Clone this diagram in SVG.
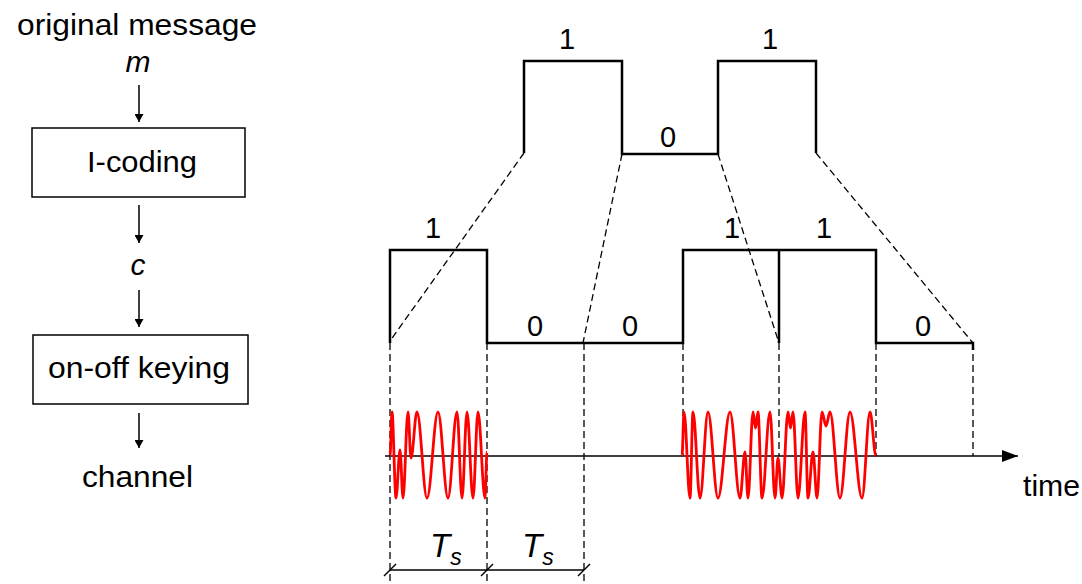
<svg xmlns="http://www.w3.org/2000/svg" width="1082" height="584" viewBox="0 0 1082 584">
<style>
.t{font-family:"Liberation Sans",Arial,sans-serif;font-size:29px;fill:#000}
.i{font-style:italic}
.box{fill:#fff;stroke:#000;stroke-width:1.5}
.ar{stroke:#000;stroke-width:1.5;fill:none}
.sig{stroke:#000;stroke-width:2.5;fill:none;stroke-linejoin:miter}
.dash{stroke:#000;stroke-width:1.3;fill:none;stroke-dasharray:7 4}
.ax{stroke:#000;stroke-width:1.5;fill:none}
.wave{stroke:#f00;stroke-width:2.8;fill:none;stroke-linejoin:round}
</style>
<defs>
<marker id="ah" viewBox="0 0 10 10" refX="10" refY="5" markerWidth="8" markerHeight="9" markerUnits="userSpaceOnUse" orient="auto" preserveAspectRatio="none">
<path d="M0,0 L10,5 L0,10 z" fill="#000"/>
</marker>
<marker id="big" viewBox="0 0 10 10" refX="10" refY="5" markerWidth="16" markerHeight="12" markerUnits="userSpaceOnUse" orient="auto" preserveAspectRatio="none">
<path d="M0,0 L10,5 L0,10 z" fill="#000"/>
</marker>
</defs>
<rect width="1082" height="584" fill="#fff"/>

<g id="block-diagram">
<g id="n-message"><text class="t" x="17" y="35" textLength="240" lengthAdjust="spacingAndGlyphs">original message</text>
<text class="t i" x="138" y="72" text-anchor="middle" style="font-size:30px">m</text></g>
<g id="n-lcoding"><rect class="box" x="32" y="128" width="213" height="69"/>
<text class="t" x="87" y="172" textLength="110" lengthAdjust="spacingAndGlyphs">I-coding</text></g>
<g id="n-c"><text class="t i" x="138" y="275" text-anchor="middle" style="font-size:30px">c</text></g>
<g id="n-ook"><rect class="box" x="33" y="335" width="215" height="69"/>
<text class="t" x="48" y="378" textLength="182" lengthAdjust="spacingAndGlyphs">on-off keying</text></g>
<g id="n-channel"><text class="t" x="82" y="487" textLength="111" lengthAdjust="spacingAndGlyphs">channel</text></g>
</g>

<g id="connectors">
<line class="ar" x1="139" y1="85" x2="139" y2="122" marker-end="url(#ah)"/>
<line class="ar" x1="139" y1="205" x2="139" y2="243" marker-end="url(#ah)"/>
<line class="ar" x1="139" y1="290" x2="139" y2="327" marker-end="url(#ah)"/>
<line class="ar" x1="139" y1="413" x2="139" y2="448" marker-end="url(#ah)"/>
<line class="ax" x1="385" y1="456" x2="1018" y2="456" marker-end="url(#big)"/>
</g>

<g id="upper-signal">
<path class="sig" d="M524,153 V61 H622 V154 H718 V61 H816 V153"/>
<text class="t" x="567" y="49" text-anchor="middle">1</text>
<text class="t" x="668" y="147" text-anchor="middle">0</text>
<text class="t" x="770" y="49" text-anchor="middle">1</text>
</g>

<g id="projection-lines">
<line class="dash" x1="524" y1="153" x2="390" y2="341"/>
<line class="dash" x1="622" y1="154" x2="583" y2="343"/>
<line class="dash" x1="718" y1="154" x2="779" y2="343"/>
<line class="dash" x1="816" y1="153" x2="973" y2="343"/>
</g>

<g id="lower-signal">
<path class="sig" d="M390,343 V250 H487 V343 H683 V250 H876 V343 H973 V350"/>
<line class="sig" x1="779" y1="250" x2="779" y2="343"/>
<text class="t" x="433" y="238" text-anchor="middle">1</text>
<text class="t" x="535" y="336" text-anchor="middle">0</text>
<text class="t" x="630" y="336" text-anchor="middle">0</text>
<text class="t" x="732" y="238" text-anchor="middle">1</text>
<text class="t" x="824" y="238" text-anchor="middle">1</text>
<text class="t" x="923" y="336" text-anchor="middle">0</text>
</g>

<g id="guides">
<line class="dash" x1="390" y1="343" x2="390" y2="584"/>
<line class="dash" x1="487" y1="343" x2="487" y2="584"/>
<line class="dash" x1="584" y1="343" x2="584" y2="584"/>
<line class="dash" x1="683" y1="343" x2="683" y2="456"/>
<line class="dash" x1="779" y1="343" x2="779" y2="456"/>
<line class="dash" x1="876" y1="343" x2="876" y2="456"/>
<line class="dash" x1="973" y1="343" x2="973" y2="456"/>
</g>

<g id="carrier">
<path class="wave" d="M390,456 C390.7 456 391.3 412 392 412 C393.4 412 394.6 498 396 498 C397.4 498 398.6 450 400 450 C401.1 450 401.9 498 403 498 C404.8 498 406.2 412 408 412 C409.1 412 409.9 458 411 458 C413.2 458 414.8 412 417 412 C420.6 412 423.4 498 427 498 C431 498 434 412 438 412 C441.6 412 444.4 498 448 498 C451.2 498 453.8 412 457 412 C458.8 412 460.2 498 462 498 C463.8 498 465.2 412 467 412 C469.2 412 470.8 498 473 498 C474.8 498 476.2 412 478 412 C480.5 412 482.5 498 485 498 C485.7 498 486.3 452 487 452"/>
<path class="wave" d="M682,456 C682.7 456 683.3 412 684 412 C686.2 412 687.8 498 690 498 C691.1 498 691.9 412 693 412 C695.5 412 697.5 498 700 498 C702.9 498 705.1 412 708 412 C711.6 412 714.4 498 718 498 C722.3 498 725.7 412 730 412 C733.6 412 736.4 498 740 498 C741.8 498 743.2 452 745 452 C746.1 452 746.9 498 748 498 C749.8 498 751.2 412 753 412 C753.9 412 754.6 428 755.5 428 C756.4 428 757.1 412 758 412 C759.4 412 760.6 498 762 498 C764.9 498 767.1 412 770 412 C771.8 412 773.2 498 775 498 C776.1 498 776.9 458 778 458 C779.4 458 780.6 498 782 498 C784.2 498 785.8 412 788 412 C788.9 412 789.6 428 790.5 428 C791.4 428 792.1 412 793 412 C794.8 412 796.2 498 798 498 C800.5 498 802.5 412 805 412 C806.1 412 806.9 498 808 498 C809.8 498 811.2 452 813 452 C814.4 452 815.6 498 817 498 C818.8 498 820.2 412 822 412 C823.4 412 824.6 426 826 426 C827.4 426 828.6 412 830 412 C833.6 412 836.4 498 840 498 C843.6 498 846.4 412 850 412 C854.3 412 857.7 498 862 498 C864.9 498 867.1 412 870 412 C872.2 412 873.8 456 876 456"/>
</g>

<g id="time-label"><text class="t" x="1023" y="496" textLength="57" lengthAdjust="spacingAndGlyphs">time</text></g>

<g id="dimension">
<line class="ax" x1="390" y1="570" x2="584" y2="570"/>
<line class="ax" x1="384" y1="576" x2="396" y2="564"/>
<line class="ax" x1="481" y1="576" x2="493" y2="564"/>
<line class="ax" x1="578" y1="576" x2="590" y2="564"/>
<text class="t i" x="430" y="557" style="font-size:33px">T<tspan dy="8" style="font-size:23px">s</tspan></text>
<text class="t i" x="522" y="557" style="font-size:33px">T<tspan dy="8" style="font-size:23px">s</tspan></text>
</g>
</svg>
